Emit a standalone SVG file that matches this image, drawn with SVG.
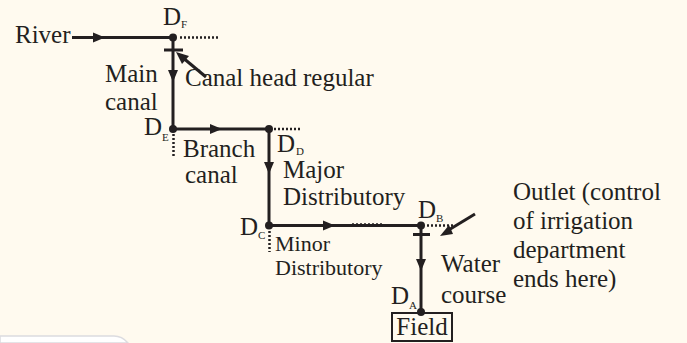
<svg xmlns="http://www.w3.org/2000/svg" width="687" height="343" viewBox="0 0 687 343">
<style>
.t{font-family:"Liberation Serif","Times New Roman",serif;font-size:25px;fill:#231f20}
.s{font-family:"Liberation Serif","Times New Roman",serif;font-size:22px;fill:#231f20}
.sub{font-family:"Liberation Serif","Times New Roman",serif;font-size:11px;fill:#231f20}
.ln{stroke:#231f20;stroke-width:3;fill:none}
.dot{stroke:#231f20;stroke-width:2.5;stroke-dasharray:2 2;fill:none}
.ah{fill:#231f20}
.nd{fill:#231f20}
</style>
<defs>
<path id="ar" d="M-6,-5 L6,0 L-6,5 Z" class="ah"/>
<path id="ad" d="M-5,-6 L0,6 L5,-6 Z" class="ah"/>
</defs>
<rect width="687" height="343" fill="#fffaef"/>
<path d="M0,336 H114 Q122,336 128,343 H0 Z" fill="#ffffff" stroke="#dcdce0" stroke-width="1.5"/>
<g id="connectors">
<line class="ln" x1="72" y1="37.5" x2="173" y2="37.5" stroke-width="2.6"/>
<use href="#ar" x="99" y="37.5"/>
<line class="dot" x1="180" y1="37.5" x2="218" y2="37.5"/>
<line class="ln" x1="164" y1="50" x2="183" y2="50" stroke-width="2.2"/>
<line class="ln" x1="173" y1="37.5" x2="173" y2="129" stroke-width="2.8"/>
<use href="#ad" x="173" y="76"/>
<line class="ln" x1="206" y1="77" x2="182" y2="57" stroke-width="2.4"/>
<path d="M176,52 L189,56 L182,64 Z" class="ah"/>
<line class="ln" x1="173" y1="129" x2="269" y2="129" stroke-width="3.4"/>
<use href="#ar" x="216" y="129"/>
<line class="dot" x1="173.5" y1="134" x2="173.5" y2="157"/>
<line class="dot" x1="274" y1="129" x2="300" y2="129"/>
<line class="ln" x1="269" y1="129" x2="269" y2="225.5" stroke-width="3"/>
<use href="#ad" x="269" y="168"/>
<line class="ln" x1="269" y1="225.5" x2="350" y2="225.5" stroke-width="3.2"/>
<line class="ln" x1="350" y1="225.5" x2="421" y2="225.5" stroke-width="2.4"/>
<line class="dot" x1="352" y1="224.5" x2="382" y2="224.5" stroke-width="1.5" stroke="#555"/>
<use href="#ar" x="329" y="225.5"/>
<line class="dot" x1="269.5" y1="231" x2="269.5" y2="252"/>
<line class="dot" x1="427" y1="225.5" x2="453" y2="225.5"/>
<line class="ln" x1="413" y1="234.5" x2="430" y2="234.5" stroke-width="2.2"/>
<line class="ln" x1="421" y1="225.5" x2="421" y2="312" stroke-width="3"/>
<use href="#ad" x="421" y="265"/>
<line class="ln" x1="475" y1="214" x2="447" y2="231" stroke-width="2.4"/>
<path d="M440,236 L449,225 L453,234 Z" class="ah"/>
</g>
<g id="river"><text class="t" x="15" y="43">River</text></g>
<g id="DF"><circle class="nd" cx="173" cy="37.5" r="4"/><text class="t" x="163" y="25">D</text><text class="sub" x="181" y="28">F</text></g>
<g id="DE"><circle class="nd" cx="173" cy="129" r="4"/><text class="t" x="144" y="135">D</text><text class="sub" x="162" y="141">E</text></g>
<g id="DD"><circle class="nd" cx="269" cy="129" r="4"/><text class="t" x="277" y="152">D</text><text class="sub" x="296" y="155">D</text></g>
<g id="DC"><circle class="nd" cx="269" cy="225.5" r="4"/><text class="t" x="240" y="235">D</text><text class="sub" x="258" y="239">C</text></g>
<g id="DB"><circle class="nd" cx="421" cy="225.5" r="4"/><text class="t" x="418" y="218">D</text><text class="sub" x="436" y="222">B</text></g>
<g id="DA"><circle class="nd" cx="421" cy="312" r="4"/><text class="t" x="391" y="304">D</text><text class="sub" x="409" y="309">A</text></g>
<g id="main-canal"><text class="t" x="105" y="82">Main</text><text class="t" x="105" y="110">canal</text></g>
<g id="canal-head"><text class="t" x="185" y="86">Canal head regular</text></g>
<g id="branch-canal"><text class="t" x="183" y="157">Branch</text><text class="t" x="185" y="183">canal</text></g>
<g id="major"><text class="t" x="283" y="178">Major</text><text class="t" x="283" y="205">Distributory</text></g>
<g id="minor"><text class="s" x="275" y="251">Minor</text><text class="s" x="275" y="275">Distributory</text></g>
<g id="water"><text class="t" x="441" y="272">Water</text><text class="t" x="441" y="303">course</text></g>
<g id="outlet"><text class="t" x="513" y="200">Outlet (control</text><text class="t" x="513" y="229">of irrigation</text><text class="t" x="513" y="258">department</text><text class="t" x="513" y="287">ends here)</text></g>
<g id="field"><rect x="392" y="313" width="60" height="28" fill="none" stroke="#231f20" stroke-width="2"/><text class="t" x="422" y="335" text-anchor="middle">Field</text></g>
</svg>
